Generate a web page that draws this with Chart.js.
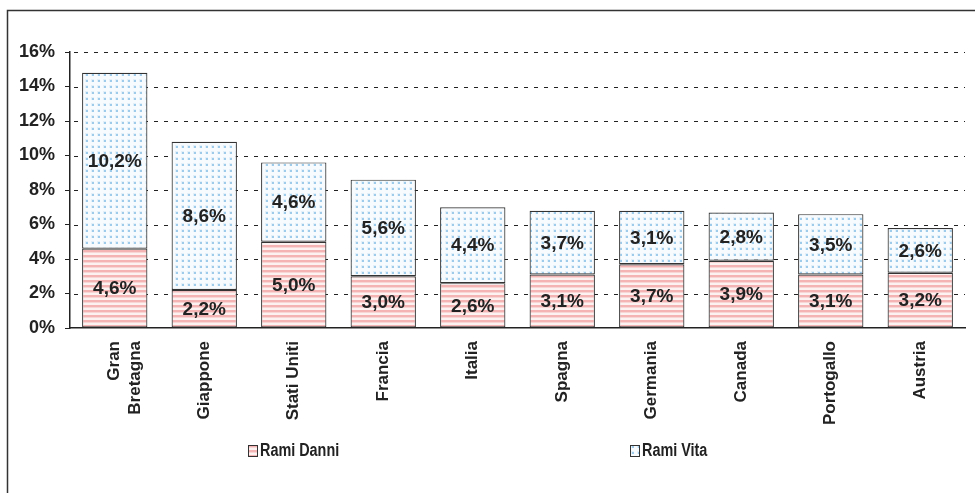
<!DOCTYPE html>
<html>
<head>
<meta charset="utf-8">
<script src="https://cdn.jsdelivr.net/npm/chart.js@4.4.0/dist/chart.umd.min.js"></script>
<style>
  html, body { margin: 0; padding: 0; background: #fff; }
  #wrap { width: 975px; height: 493px; position: relative; }
</style>
</head>
<body>
<div id="wrap"><canvas id="drawChart" width="975" height="493"></canvas></div>
<script>
var categories = [['Gran', 'Bretagna'], 'Giappone', 'Stati Uniti', 'Francia', 'Italia', 'Spagna', 'Germania', 'Canada', 'Portogallo', 'Austria'];
var ramiDanni = [4.6, 2.2, 5.0, 3.0, 2.6, 3.1, 3.7, 3.9, 3.1, 3.2];
var ramiVita = [10.2, 8.6, 4.6, 5.6, 4.4, 3.7, 3.1, 2.8, 3.5, 2.6];
var seriesNames = ['Rami Danni', 'Rami Vita'];
var yTicks = [0, 2, 4, 6, 8, 10, 12, 14, 16];

function makePattern(type) {
	var c = document.createElement('canvas');
	var ctx = c.getContext('2d');
	if (type == 'stripes') {
		c.width = 8; c.height = 5;
		ctx.fillStyle = '#fdf2f2';
		ctx.fillRect(0, 0, 8, 5);
		ctx.fillStyle = '#f4b4b4';
		ctx.fillRect(0, 0, 8, 2);
		ctx.fillStyle = '#f9d6d6';
		ctx.fillRect(0, 2, 8, 1);
	} else {
		c.width = 6; c.height = 6;
		ctx.fillStyle = '#f7fbfe';
		ctx.fillRect(0, 0, 6, 6);
		ctx.fillStyle = '#e3f0f9';
		ctx.fillRect(1, 1, 3, 3);
		ctx.fillStyle = '#9fcbea';
		ctx.fillRect(2, 2, 2, 2);
	}
	return document.getElementById('drawChart').getContext('2d').createPattern(c, 'repeat');
}

var redPattern = makePattern('stripes');
var bluePattern = makePattern('dots');

var framePlugin = {
	id: 'frame',
	beforeDraw: function (chart) {
		var ctx = chart.ctx;
		ctx.save();
		ctx.strokeStyle = '#333';
		ctx.lineWidth = 1.5;
		ctx.strokeRect(7.5, 10.5, 1100, 1100);
		ctx.restore();
	},
	beforeDatasetsDraw: function (chart) {
		// dashed horizontal grid, drawn from the y scale
		var ctx = chart.ctx;
		var y = chart.scales.y;
		var area = chart.chartArea;
		ctx.save();
		ctx.strokeStyle = '#222';
		ctx.lineWidth = 1;
		ctx.setLineDash([4, 6]);
		yTicks.forEach(function (v) {
			if (v == 0) return;
			var py = Math.round(y.getPixelForValue(v)) + 0.5;
			ctx.beginPath();
			ctx.moveTo(area.left + 4, py);
			ctx.lineTo(area.right, py);
			ctx.stroke();
		});
		ctx.restore();
	}
};

var labelPlugin = {
	id: 'segLabels',
	afterDatasetsDraw: function (chart) {
		var ctx = chart.ctx;
		ctx.save();
		ctx.font = 'bold 19px Arial, "Liberation Sans", sans-serif';
		ctx.fillStyle = '#222';
		ctx.textAlign = 'center';
		ctx.textBaseline = 'middle';
		chart.data.datasets.forEach(function (ds, i) {
			chart.getDatasetMeta(i).data.forEach(function (bar, j) {
				var y = (bar.y + bar.base) / 2;
				ctx.fillText(ds.data[j].toFixed(1).replace('.', ',') + '%', bar.x, y + 1);
			});
		});
		ctx.restore();
	},
	afterDraw: function (chart) {
		var ctx = chart.ctx;
		var items = [
			{ x: 248, pattern: redPattern, text: seriesNames[0] },
			{ x: 630, pattern: bluePattern, text: seriesNames[1] }
		];
		ctx.save();
		ctx.textBaseline = 'middle';
		items.forEach(function (it) {
			ctx.fillStyle = it.pattern;
			ctx.fillRect(it.x, 445, 9, 11);
			ctx.strokeStyle = '#333';
			ctx.lineWidth = 1;
			ctx.strokeRect(it.x + 0.5, 445.5, 9, 11);
			ctx.save();
			ctx.translate(it.x + 12, 451);
			ctx.scale(0.8, 1);
			ctx.font = 'bold 18px Arial, "Liberation Sans", sans-serif';
			ctx.fillStyle = '#222';
			ctx.fillText(it.text, 0, 0);
			ctx.restore();
		});
		ctx.restore();
	}
};

var chartData = {
	labels: categories,
	datasets: [{
		label: seriesNames[0],
		data: ramiDanni,
		backgroundColor: redPattern,
		borderColor: '#333',
		borderWidth: 1.2,
		borderSkipped: false,
		barPercentage: 0.73,
		categoryPercentage: 1
	}, {
		label: seriesNames[1],
		data: ramiVita,
		backgroundColor: bluePattern,
		borderColor: '#333',
		borderWidth: 1.2,
		borderSkipped: false,
		barPercentage: 0.73,
		categoryPercentage: 1
	}]
};

var drawChart = new Chart(document.getElementById('drawChart').getContext('2d'), {
	type: 'bar',
	data: chartData,
	plugins: [framePlugin, labelPlugin],
	options: {
		responsive: false,
		animation: false,
		layout: { padding: { top: 52, right: 10, bottom: 0, left: 0 } },
		plugins: {
			legend: { display: false },
			tooltip: { enabled: false }
		},
		scales: {
			x: {
				stacked: true,
				grid: { display: false, drawTicks: false },
				border: { color: '#222', width: 1.5 },
				ticks: {
					minRotation: 90,
					maxRotation: 90,
					padding: 13,
					color: '#222',
					font: { family: 'Arial, "Liberation Sans", sans-serif', size: 17, weight: 'bold' }
				},
				afterFit: function (scale) { scale.height = 165; }
			},
			y: {
				stacked: true,
				min: 0,
				max: 16,
				afterBuildTicks: function (scale) {
					scale.ticks = yTicks.map(function (v) { return { value: v }; });
				},
				grid: {
					drawOnChartArea: false,
					tickLength: 5,
					tickColor: '#222',
					tickWidth: 1
				},
				border: { color: '#222', width: 1.5 },
				ticks: {
					padding: 10,
					color: '#222',
					font: { family: 'Arial, "Liberation Sans", sans-serif', size: 18, weight: 'bold' },
					callback: function (v) { return v + '%'; }
				},
				afterFit: function (scale) { scale.width = 70; }
			}
		}
	}
});
</script>
</body>
</html>
